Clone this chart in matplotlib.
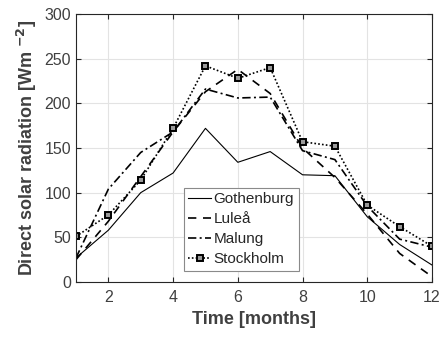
import matplotlib.pyplot as plt

plt.rcParams["font.family"] = ["Liberation Sans", "DejaVu Sans"]

months = list(range(1, 13))
gothenburg = [27, 58, 100, 122, 172, 134, 146, 120, 119, 73, 42, 19]
lulea = [25, 68, 118, 168, 213, 238, 211, 150, 117, 76, 32, 6]
malung = [27, 104, 145, 168, 216, 206, 207, 147, 137, 85, 48, 39]
stockholm = [51, 75, 114, 172, 242, 228, 240, 157, 152, 86, 62, 40]

TEXT = "#404040"
AX = "#262626"

fig = plt.figure(figsize=(4.44, 3.38), dpi=100)
ax = fig.add_axes([76 / 444, 1 - 282 / 338, 356 / 444, 268 / 338])

ax.plot(months, gothenburg, color="black", lw=0.8, label="Gothenburg")
ax.plot(months, lulea, color="black", lw=1.2, ls=(0, (5, 4)), label="Luleå")
ax.plot(months, malung, color="black", lw=1.2, ls=(0, (5, 2, 1.2, 2)), label="Malung")
ax.plot(months, stockholm, color="black", lw=1.2, ls=(0, (1, 1.3)), marker="s",
        ms=4.3, mfc="#999999", mec="black", mew=1.4, label="Stockholm")

ax.set_xlim(1, 12)
ax.set_ylim(0, 300)
ax.set_xticks([2, 4, 6, 8, 10, 12])
ax.set_yticks(range(0, 301, 50))
ax.grid(True, color="#e3e3e3", lw=0.8)
ax.set_axisbelow(True)
for s in ax.spines.values():
    s.set_color(AX)
    s.set_linewidth(0.8)
ax.tick_params(direction="in", top=True, right=True, length=3.5, width=0.8,
               colors=AX, labelcolor=TEXT, labelsize=11.5)
ax.tick_params(axis="x", pad=6)

ax.set_xlabel("Time [months]", fontsize=13, fontweight="bold", color=TEXT, labelpad=4)
ax.set_ylabel(r"Direct solar radiation [Wm $^{\mathbf{-2}}$]", fontsize=13,
              fontweight="bold", color=TEXT, labelpad=4)

leg = ax.legend(loc="lower left", bbox_to_anchor=(0.303, 0.041), fancybox=False,
                framealpha=1, edgecolor="#8a8a8a", fontsize=11, handlelength=1.5,
                handletextpad=0.15, borderpad=0.3, labelspacing=0.4, borderaxespad=0)
leg.get_frame().set_linewidth(0.8)
for t in leg.get_texts():
    t.set_color("#262626")

fig.savefig("out.png", dpi=100)
